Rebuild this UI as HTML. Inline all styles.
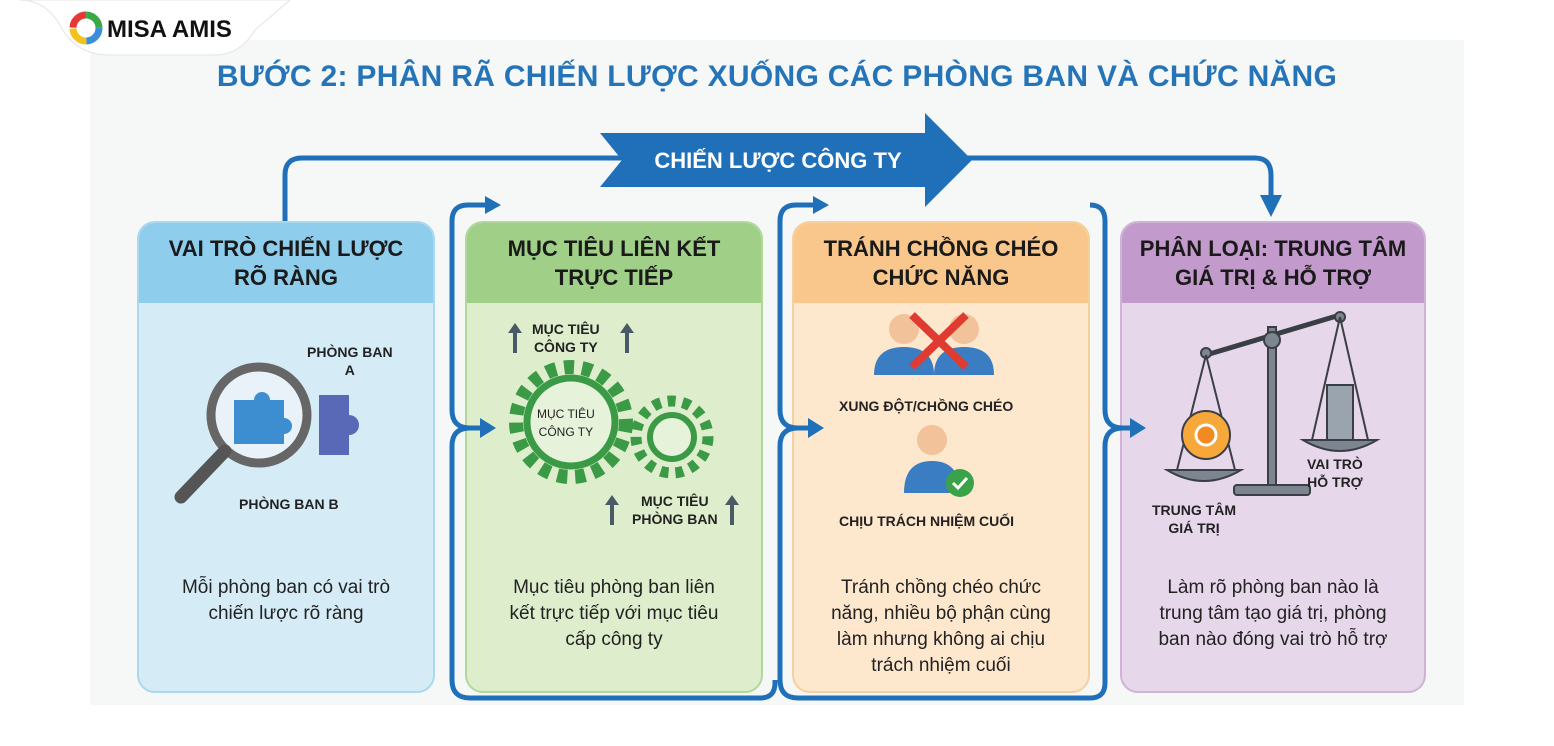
<!DOCTYPE html>
<html><head><meta charset="utf-8"><style>
body{margin:0;width:1554px;height:746px;background:#fff;font-family:"Liberation Sans",sans-serif;overflow:hidden;position:relative}
.bg{position:absolute;left:90px;top:40px;width:1374px;height:665px;background:#f6f7f7}
.logo{position:absolute;left:0;top:0}
.title{position:absolute;left:0;width:1554px;top:60px;text-align:center;font-weight:bold;font-size:30px;color:#2674b8;letter-spacing:0.3px}
.card{position:absolute;top:221px;height:468px;border-radius:18px;overflow:hidden;border:2px solid}
.card .h{height:80px;display:flex;align-items:center;justify-content:center;text-align:center;font-weight:bold;font-size:22px;line-height:29px;color:#1a1a1a}
.card .b{position:absolute;left:0;right:0;bottom:0;top:82px}
.desc{position:absolute;left:0;right:0;text-align:center;font-size:19px;line-height:26px;color:#222}
.lbl{position:absolute;font-weight:bold;font-size:14px;color:#222;text-align:center;line-height:18px}
</style></head><body>
<div class="bg"></div>
<svg class="logo" width="300" height="60"><path d="M20 0 Q45 0 60 25 Q75 55 110 55 L215 55 Q240 55 255 30 L290 0 Z" fill="#fff" stroke="#e4e4e4"/>
<circle cx="86" cy="28" r="13" fill="none" stroke="#3b8fd8" stroke-width="7" stroke-dasharray="20 62"/>
<circle cx="86" cy="28" r="13" fill="none" stroke="#f4c21b" stroke-width="7" stroke-dasharray="20 62" stroke-dashoffset="-20"/>
<circle cx="86" cy="28" r="13" fill="none" stroke="#e53935" stroke-width="7" stroke-dasharray="20 62" stroke-dashoffset="-41"/>
<circle cx="86" cy="28" r="13" fill="none" stroke="#3ca845" stroke-width="7" stroke-dasharray="20 62" stroke-dashoffset="-61"/>
<text x="107" y="37" font-family="Liberation Sans" font-weight="bold" font-size="24" fill="#111">MISA AMIS</text></svg>
<div class="title">BƯỚC 2: PHÂN RÃ CHIẾN LƯỢC XUỐNG CÁC PHÒNG BAN VÀ CHỨC NĂNG</div>

<div class="card" style="left:137px;width:294px;border-color:#a9d8ef;background:#d5ecf7"><div class="h" style="background:#8ecdec">VAI TRÒ CHIẾN LƯỢC<br>RÕ RÀNG</div><div class="b">
<svg width="294" height="250" style="position:absolute;top:0;left:0"><path d="M180 90 h30 v20 a10 10 0 0 1 0 20 v20 h-30 z" fill="#5a68b8"/><circle cx="120" cy="110" r="48" fill="#e8f2f8" stroke="#666" stroke-width="9"/><path d="M95 95 h20 a8 8 0 0 1 16 0 h14 v18 a8 8 0 0 1 0 16 v10 h-50 z" fill="#3d8ed0"/><line x1="86" y1="146" x2="42" y2="192" stroke="#555" stroke-width="13" stroke-linecap="round"/></svg>
<div class="lbl" style="left:168px;top:38px">PHÒNG BAN<br>A</div><div class="lbl" style="left:100px;top:190px">PHÒNG BAN B</div>
<div class="desc" style="top:270px">Mỗi phòng ban có vai trò<br>chiến lược rõ ràng</div></div></div>

<div class="card" style="left:465px;width:294px;border-color:#b0d89a;background:#deeecd"><div class="h" style="background:#a0cf87">MỤC TIÊU LIÊN KẾT<br>TRỰC TIẾP</div><div class="b">
<svg width="294" height="250" style="position:absolute;top:0;left:0"><circle cx="104" cy="117" r="55" fill="none" stroke="#3b9a45" stroke-width="14" stroke-dasharray="10 8"/><circle cx="104" cy="117" r="44" fill="#e6f2da" stroke="#3b9a45" stroke-width="7"/><circle cx="205" cy="132" r="36" fill="none" stroke="#3b9a45" stroke-width="11" stroke-dasharray="8 7"/><circle cx="205" cy="132" r="22" fill="#e6f2da" stroke="#3b9a45" stroke-width="6"/>
<g fill="#4a5a66"><path d="M48 18 l-7 10 h5 v20 h4 v-20 h5z"/><path d="M160 18 l-7 10 h5 v20 h4 v-20 h5z"/><path d="M145 190 l-7 10 h5 v20 h4 v-20 h5z"/><path d="M265 190 l-7 10 h5 v20 h4 v-20 h5z"/></g></svg>
<div class="lbl" style="left:65px;top:15px">MỤC TIÊU<br>CÔNG TY</div><div class="lbl" style="left:70px;top:100px;font-size:12px;font-weight:normal">MỤC TIÊU<br>CÔNG TY</div><div class="lbl" style="left:165px;top:187px">MỤC TIÊU<br>PHÒNG BAN</div>
<div class="desc" style="top:270px">Mục tiêu phòng ban liên<br>kết trực tiếp với mục tiêu<br>cấp công ty</div></div></div>

<div class="card" style="left:792px;width:294px;border-color:#f6cf9e;background:#fde7cd"><div class="h" style="background:#f9c78b">TRÁNH CHỒNG CHÉO<br>CHỨC NĂNG</div><div class="b">
<svg width="294" height="250" style="position:absolute;top:0;left:0"><g><circle cx="110" cy="24" r="15" fill="#f2c29a"/><path d="M80 70 q0-28 30-28 q30 0 30 28z" fill="#3a7dc2"/><circle cx="170" cy="24" r="15" fill="#f2c29a"/><path d="M140 70 q0-28 30-28 q30 0 30 28z" fill="#3a7dc2"/><path d="M118 10 L172 62 M172 10 L118 62" stroke="#e03b30" stroke-width="8"/></g>
<circle cx="138" cy="135" r="15" fill="#f2c29a"/><path d="M110 188 q0-32 28-32 q28 0 28 32z" fill="#3a7dc2"/><circle cx="166" cy="178" r="14" fill="#3aa34a"/><path d="M159 178 l5 5 l9 -10" stroke="#fff" stroke-width="3" fill="none"/></svg>
<div class="lbl" style="left:45px;top:92px">XUNG ĐỘT/CHỒNG CHÉO</div><div class="lbl" style="left:45px;top:207px">CHỊU TRÁCH NHIỆM CUỐI</div>
<div class="desc" style="top:270px">Tránh chồng chéo chức<br>năng, nhiều bộ phận cùng<br>làm nhưng không ai chịu<br>trách nhiệm cuối</div></div></div>

<div class="card" style="left:1120px;width:302px;border-color:#cfb3d6;background:#e6d7eb"><div class="h" style="background:#c29acb">PHÂN LOẠI: TRUNG TÂM<br>GIÁ TRỊ &amp; HỖ TRỢ</div><div class="b">
<svg width="302" height="250" style="position:absolute;top:0;left:0"><g stroke="#3a3f45" stroke-width="2" fill="#7d8690"><rect x="146" y="22" width="8" height="160"/><rect x="112" y="180" width="76" height="10" rx="3"/><path d="M84 50 L218 10" stroke-width="5" fill="none"/><circle cx="150" cy="35" r="8"/><circle cx="84" cy="48" r="5"/><circle cx="218" cy="12" r="5"/><path d="M84 50 L55 165 M84 50 L113 165 M218 12 L190 135 M218 12 L246 135" stroke-width="2" fill="none"/><path d="M45 165 q37 22 74 0z"/><path d="M181 135 q37 22 74 0z"/><rect x="205" y="80" width="26" height="55" fill="#9aa4ae"/></g>
<circle cx="84" cy="130" r="24" fill="#f6a93a" stroke="#3a3f45" stroke-width="2"/><circle cx="84" cy="130" r="10" fill="#f28a22" stroke="#fff" stroke-width="3"/></svg>
<div class="lbl" style="left:30px;top:196px">TRUNG TÂM<br>GIÁ TRỊ</div><div class="lbl" style="left:185px;top:150px">VAI TRÒ<br>HỖ TRỢ</div>
<div class="desc" style="top:270px">Làm rõ phòng ban nào là<br>trung tâm tạo giá trị, phòng<br>ban nào đóng vai trò hỗ trợ</div></div></div>

<svg width="1554" height="746" style="position:absolute;left:0;top:0"><g fill="none" stroke="#1f70b8" stroke-width="5">
<path d="M285 221 V175 Q285 158 302 158 H1255 Q1271 158 1271 175 V195"/>
<path d="M490 205 H468 Q452 205 452 221 V410 Q452 428 470 428 H480 M470 428 Q452 428 452 446 V680 Q452 698 470 698 H760 Q775 698 775 683 V680"/>
<path d="M818 205 H796 Q780 205 780 221 V410 Q780 428 798 428 H808 M798 428 Q780 428 780 446 V680 Q780 698 798 698 H1090 Q1105 698 1105 683"/>
<path d="M1090 205 Q1105 205 1105 221 V410 Q1105 428 1123 428 H1130 M1123 428 Q1105 428 1105 446 V683"/>
</g><g fill="#1f70b8"><path d="M1260 195 h22 l-11 22z"/><path d="M485 196 l16 9 l-16 9z"/><path d="M813 196 l16 9 l-16 9z"/><path d="M480 418 l16 10 l-16 10z"/><path d="M808 418 l16 10 l-16 10z"/><path d="M1130 418 l16 10 l-16 10z"/>
<path d="M600 133 H925 V113 L972 160 L925 207 V187 H600 L622 160Z"/></g>
<text x="778" y="168" text-anchor="middle" fill="#fff" font-family="Liberation Sans" font-weight="bold" font-size="22">CHIẾN LƯỢC CÔNG TY</text></svg>
</body></html>
